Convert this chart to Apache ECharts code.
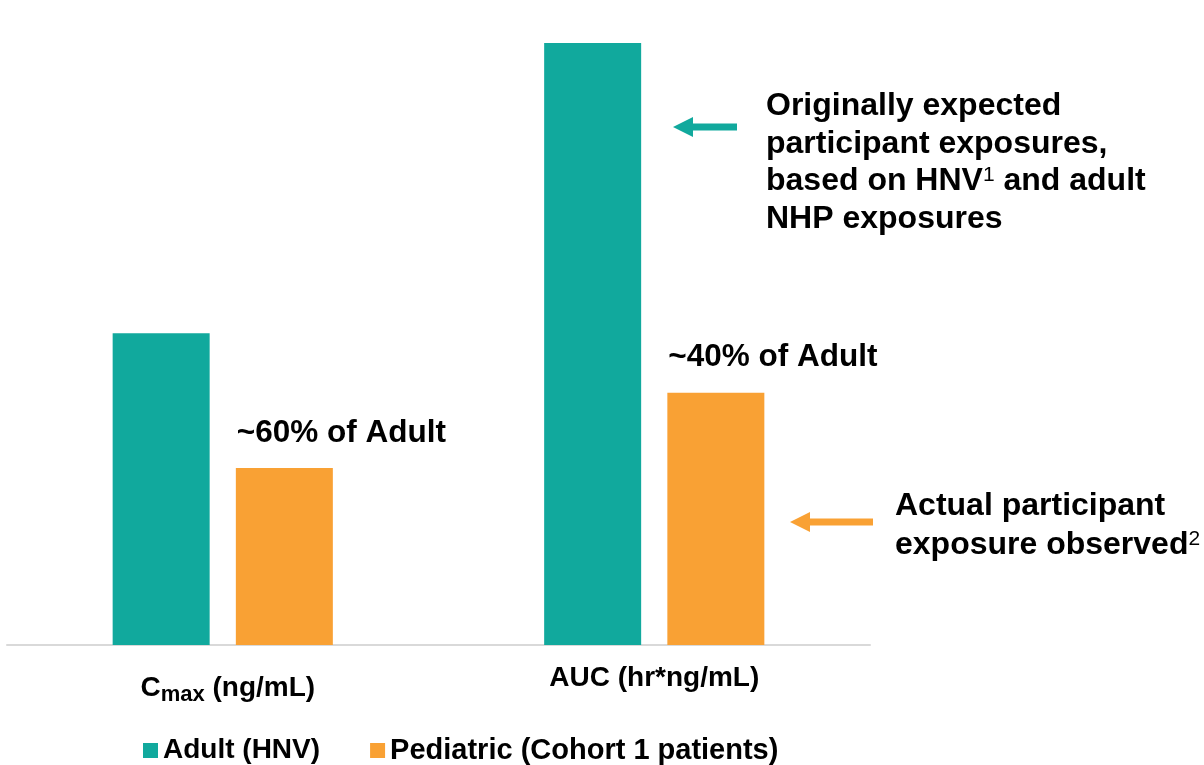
<!DOCTYPE html>
<html>
<head>
<meta charset="utf-8">
<title>Adult vs Pediatric exposure</title>
<script src="https://cdn.jsdelivr.net/npm/echarts@6/dist/echarts.min.js"></script>
<style>
  html, body { margin: 0; padding: 0; background: #ffffff; }
  #chart { width: 1204px; height: 765px; }
</style>
</head>
<body>
<div id="chart"></div>
<script>
// Exposure metrics (relative scale, AUC adult = 100)
const categories = ['Cmax', 'AUC'];
const seriesNames = ['Adult (HNV)', 'Pediatric (Cohort 1 patients)'];
const adultValues = [51.8, 100];
const pediatricValues = [29.4, 41.9];
const pediatricLabels = ['~60% of Adult', '~40% of Adult'];

const TEAL = '#11A99D';
const ORANGE = '#F9A134';
const FONT = "'Liberation Sans', Arial, Helvetica, sans-serif";

const chart = echarts.init(document.getElementById('chart'), null, { renderer: 'canvas' });

// superscript style shared by the side notes
const supStyle = { fontFamily: FONT, fontSize: 21, fontWeight: 'normal', fill: '#000', lineHeight: 21, padding: [0, 0, 12, 0] };

chart.setOption({
  backgroundColor: '#ffffff',
  animation: false,
  textStyle: { fontFamily: FONT },
  grid: { left: 7, right: 334, top: 43, bottom: 120 },
  legend: {
    left: 143,
    top: 736,
    padding: 0,
    icon: 'rect',
    itemWidth: 15,
    itemHeight: 15,
    itemGap: 50,
    selectedMode: false,
    formatter: function (name) {
      return name === seriesNames[0] ? '{a|' + name + '}' : '{b|' + name + '}';
    },
    textStyle: {
      fontFamily: FONT, fontSize: 28, fontWeight: 'bold', color: '#000', lineHeight: 28,
      rich: {
        a: { fontFamily: FONT, fontSize: 28, fontWeight: 'bold', color: '#000', lineHeight: 28 },
        b: { fontFamily: FONT, fontSize: 29, fontWeight: 'bold', color: '#000', lineHeight: 28 }
      }
    },
    data: seriesNames
  },
  xAxis: {
    type: 'category',
    data: categories,
    axisLine: { lineStyle: { color: '#d9d9d9', width: 2 } },
    axisTick: { show: false },
    axisLabel: {
      margin: 19,
      interval: 0,
      color: '#000',
      fontFamily: FONT,
      fontSize: 28,
      fontWeight: 'bold',
      lineHeight: 28,
      formatter: function (v) {
        if (v === 'Cmax') return '{c0|C}{s|max}{c| (ng/mL)}';
        return '{a|AUC (hr*ng/mL)}';
      },
      rich: {
        a: { fontFamily: FONT, fontSize: 28, fontWeight: 'bold', color: '#000', lineHeight: 28 },
        c0: { fontFamily: FONT, fontSize: 28, fontWeight: 'bold', color: '#000', lineHeight: 48, padding: [0, 0, 0, 10] },
        c: { fontFamily: FONT, fontSize: 28, fontWeight: 'bold', color: '#000', lineHeight: 48 },
        s: { fontFamily: FONT, fontSize: 22, fontWeight: 'bold', color: '#000', lineHeight: 22, padding: [14, 0, 0, 0] }
      }
    }
  },
  yAxis: {
    type: 'value',
    min: 0,
    max: 100,
    show: false,
    splitLine: { show: false }
  },
  series: [
    {
      name: seriesNames[0],
      type: 'bar',
      data: adultValues,
      barWidth: 97,
      barGap: '27%',
      itemStyle: { color: TEAL }
    },
    {
      name: seriesNames[1],
      type: 'bar',
      data: pediatricValues,
      barWidth: 97,
      itemStyle: { color: ORANGE },
      label: {
        show: true,
        position: [1, -35],
        align: 'left',
        verticalAlign: 'middle',
        fontFamily: FONT,
        fontSize: 31.5,
        fontWeight: 'bold',
        color: '#000',
        formatter: function (p) { return pediatricLabels[p.dataIndex]; }
      }
    }
  ],
  graphic: [
    // arrow pointing at the adult AUC bar
    {
      type: 'polygon',
      shape: { points: [[673, 127], [693, 117], [693, 123.5], [737, 123.5], [737, 130.5], [693, 130.5], [693, 137]] },
      style: { fill: TEAL }
    },
    {
      type: 'text',
      x: 766,
      y: 87,
      style: {
        text: 'Originally expected\nparticipant exposures,\nbased on HNV{sup|1} and adult\nNHP exposures',
        fontFamily: FONT,
        fontSize: 32,
        fontWeight: 'bold',
        lineHeight: 37.8,
        fill: '#000',
        align: 'left',
        verticalAlign: 'top',
        rich: { sup: supStyle }
      }
    },
    // arrow pointing at the pediatric bars
    {
      type: 'polygon',
      shape: { points: [[790, 522], [810, 512], [810, 518.5], [873, 518.5], [873, 525.5], [810, 525.5], [810, 532]] },
      style: { fill: ORANGE }
    },
    {
      type: 'text',
      x: 895,
      y: 487,
      style: {
        text: 'Actual participant\nexposure observed{sup|2}',
        fontFamily: FONT,
        fontSize: 32,
        fontWeight: 'bold',
        lineHeight: 38.5,
        fill: '#000',
        align: 'left',
        verticalAlign: 'top',
        rich: { sup: supStyle }
      }
    }
  ]
});
</script>
</body>
</html>
